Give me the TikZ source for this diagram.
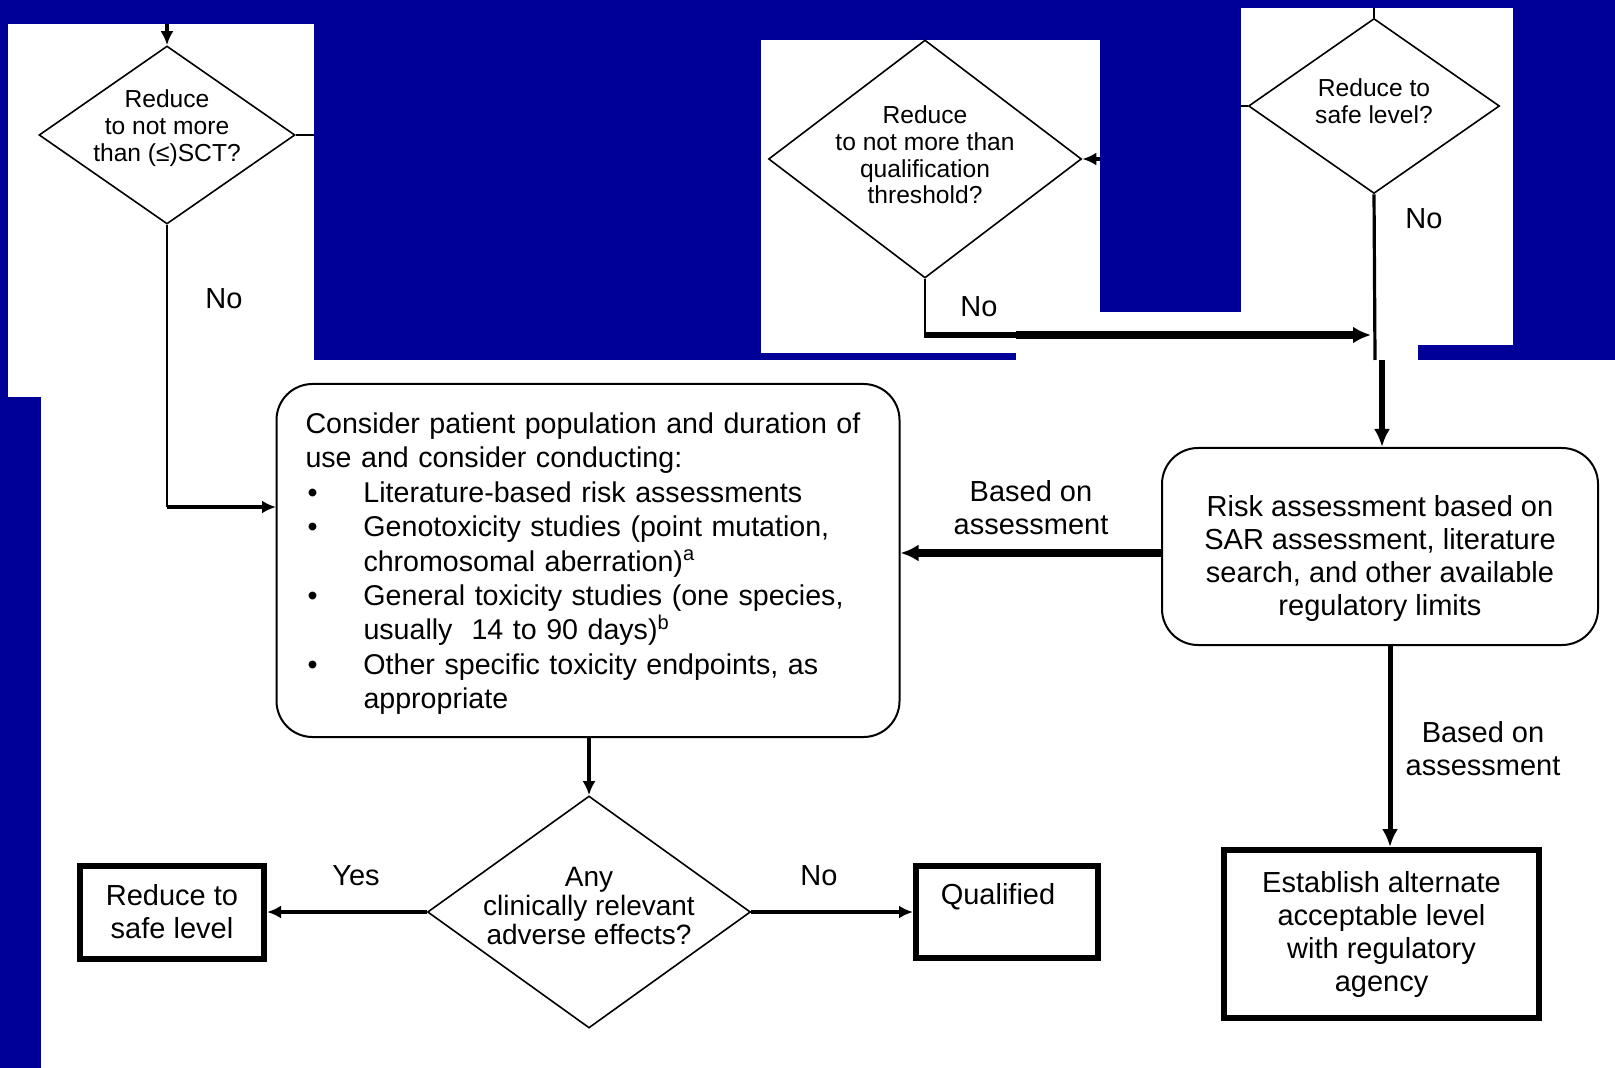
\documentclass[tikz,border=0pt]{standalone}
\usepackage{fontspec}
\setmainfont{Liberation Sans}
\usetikzlibrary{shapes.geometric,arrows.meta}
\definecolor{slideblue}{RGB}{0,0,153}
\begin{document}
\begin{tikzpicture}[x=0.5pt,y=-0.5pt,
  dia/.style={draw, diamond, line width=0.8pt, inner sep=0pt},
  rbox/.style={draw, rounded corners=18pt, line width=1pt, inner sep=0pt},
  tbox/.style={draw, line width=3pt, inner sep=0pt},
  txt/.style={font=\fontsize{14.5}{16.5}\selectfont, align=center, inner sep=0pt},
  dtxt/.style={font=\fontsize{12.3}{13.4}\selectfont, align=center, inner sep=0pt},
  conn/.style={line width=1pt},
  arr/.style={line width=1.8pt, -{Latex[length=7pt,width=6.5pt]}},
  medarr/.style={line width=2.5pt, -{Latex[length=9pt,width=8pt]}},
  bigarr/.style={line width=3.8pt, -{Latex[length=9pt,width=8.5pt]}},
]
\useasboundingbox (0,0) rectangle (1615,1068);
% slide background and white patches
\fill[slideblue] (0,0) rectangle (1615,1068);
\fill[white] (8,24) rectangle (314,397);
\fill[white] (41,360) rectangle (1615,1068);
\fill[white] (761,40) rectangle (1100,353);
\fill[white] (1016,312) rectangle (1241,360);
\fill[white] (1241,8) rectangle (1513,345);
\fill[white] (1241,345) rectangle (1418,360);

% diamonds
\node[dia, minimum width=128pt, minimum height=89pt] (D1) at (167,135) {};
\node[dtxt] (D1t) at (167,128) {Reduce\\to not more\\than (≤)SCT?};
\node[dia, minimum width=156.5pt, minimum height=119pt] (D2) at (925,159) {};
\node[dtxt] (D2t) at (925,155) {Reduce\\to not more than\\qualification\\threshold?};
\node[dia, minimum width=125.5pt, minimum height=87.5pt] (D3) at (1374,106) {};
\node[dtxt] (D3t) at (1374,101) {Reduce to\\safe level?};
\node[dia, minimum width=161.5pt, minimum height=116pt] (D4) at (589,912) {};
\node[txt, font=\fontsize{14}{14.6}\selectfont] (D4t) at (589,906) {Any\\clinically relevant\\adverse effects?};

% boxes
\node[rbox, minimum width=311.5pt, minimum height=176.5pt, text width=282.5pt, align=left,
      inner xsep=14.5pt, font=\fontsize{14.3}{17.2}\selectfont] (Cons) at (588,560.5)
 {\rule{0pt}{13.6pt}Consider patient population and duration of\\
  use and consider conducting:\\
  \makebox[29pt][l]{\hspace{1pt}•}Literature-based risk assessments\\
  \makebox[29pt][l]{\hspace{1pt}•}Genotoxicity studies (point mutation,\\
  \hspace*{29pt}chromosomal aberration)\textsuperscript{a}\\
  \makebox[29pt][l]{\hspace{1pt}•}General toxicity studies (one species,\\
  \hspace*{29pt}usually\ \ 14 to 90 days)\textsuperscript{b}\\
  \makebox[29pt][l]{\hspace{1pt}•}Other specific toxicity endpoints, as\\
  \hspace*{29pt}appropriate};
\node[rbox, minimum width=218pt, minimum height=98.5pt] (Risk) at (1380,546.5) {};
\node[txt] (Riskt) at (1380,559) {Risk assessment based on\\SAR assessment, literature\\search, and other available\\regulatory limits};
\node[tbox, minimum width=157.5pt, minimum height=84pt, txt] (Est) at (1381.5,934) {Establish alternate\\acceptable level\\with regulatory\\agency};
\node[tbox, minimum width=92pt, minimum height=46.5pt, txt] (Red) at (172,912) {Reduce to\\safe level};
\node[tbox, minimum width=91pt, minimum height=46pt] (Qual) at (1007,912) {};
\node[txt] (Qualt) at (998,897) {Qualified};

% labels
\node[txt] (L1) at (224,299) {No};
\node[txt] (L2) at (979,307) {No};
\node[txt] (L3) at (1424,219) {No};
\node[txt] (L4) at (1031,508) {Based on\\assessment};
\node[txt] (L5) at (1483,749) {Based on\\assessment};
\node[txt] (L6) at (356,876) {Yes};
\node[txt] (L7) at (819,876) {No};

% connectors
\coordinate (inD1) at (167,24);
\draw[arr] (inD1) -- (D1.north);
\coordinate (outD1) at (314,135);
\draw[conn] (D1.east) -- (outD1);
\coordinate (c1) at (276,507);
\draw[conn] (D1.south) -- (D1.south |- c1);
\draw[arr] (D1.south |- c1) -- (c1);

\coordinate (inD2) at (1100,159);
\draw[arr] (inD2) -- (D2.east);
\coordinate (k1) at (1016,335);
\draw[conn] (D2.south) -- (D2.south |- k1);
\draw[line width=2.6pt] ([xshift=-0.5pt]D2.south |- k1) -- (k1);
\coordinate (k2) at (1371,335);
\draw[bigarr] (k1) -- (k2);

\coordinate (inD3) at (1374,8);
\draw[conn] (inD3) -- (D3.north);
\coordinate (outD3) at (1241,106);
\draw[conn] (D3.west) -- (outD3);
\coordinate (j3) at (1375,360);
\draw[line width=1.6pt] (D3.south) -- (j3);
\coordinate (j4) at (1382,360);
\draw[medarr, line width=3.4pt] (j4) -- (j4 |- Risk.north);

\coordinate (r1) at (1162,553);
\draw[bigarr] (r1) -- (r1 -| Cons.east);
\coordinate (r2) at (1390,645);
\draw[medarr] (r2) -- (r2 |- Est.north);
\draw[arr] (D4.north |- Cons.south) -- (D4.north);
\draw[arr] (D4.west) -- (Red.east);
\draw[arr] (D4.east) -- (Qual.west);
\end{tikzpicture}
\end{document}
